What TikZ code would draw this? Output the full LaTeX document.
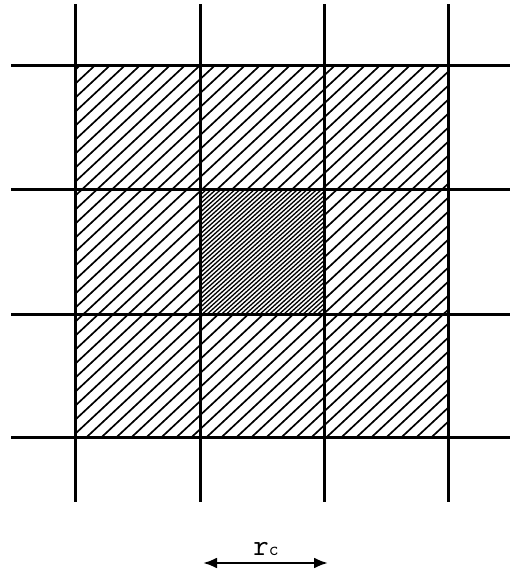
\documentclass[tikz,border=0pt]{standalone}
\usepackage{fontspec}
\usetikzlibrary{arrows.meta}
\begin{document}
\begin{tikzpicture}[x=1pt, y=1pt, gridline/.style={line width=3pt}, hatch/.style={line width=1.7pt}, finehatch/.style={line width=1.3pt}]
        \useasboundingbox (0,0) rectangle (518,574);
        \coordinate (o1) at (75,136);
        \coordinate (o2) at (448,508);
        \coordinate (c1) at (200,259);
        \coordinate (c2) at (324,384);
        % outer cells
        \begin{scope}
            \clip (o1) rectangle (o2);
            \foreach \k in {-34,...,21}
                \draw[hatch] (\k*15,0) -- ++(600,560);
        \end{scope}
        % central cell
        \fill[white] (c1) rectangle (c2);
        \begin{scope}
            \clip (c1) rectangle (c2);
            \foreach \k in {-50,...,9}
                \draw[finehatch] (\k*4.8,0) -- ++(600,540);
        \end{scope}
        % grid
        \foreach \x in {75,200,324,448}
            \draw[gridline] (\x,72) -- (\x,570);
        \foreach \y in {136,259,384,508}
            \draw[gridline] (11,\y) -- (510,\y);
        % cell size
        \coordinate (left) at (203,11);
        \coordinate (right) at (328,11);
        \draw[line width=2.6pt, {Latex[length=14pt,width=11pt]}-{Latex[length=14pt,width=11pt]}] (left) -- (right);
        \node[anchor=base, inner sep=0pt] (rc) at (266,19) {\ttfamily\fontsize{30}{30}\selectfont r\fontsize{19}{19}\selectfont c};
    \end{tikzpicture}
\end{document}
